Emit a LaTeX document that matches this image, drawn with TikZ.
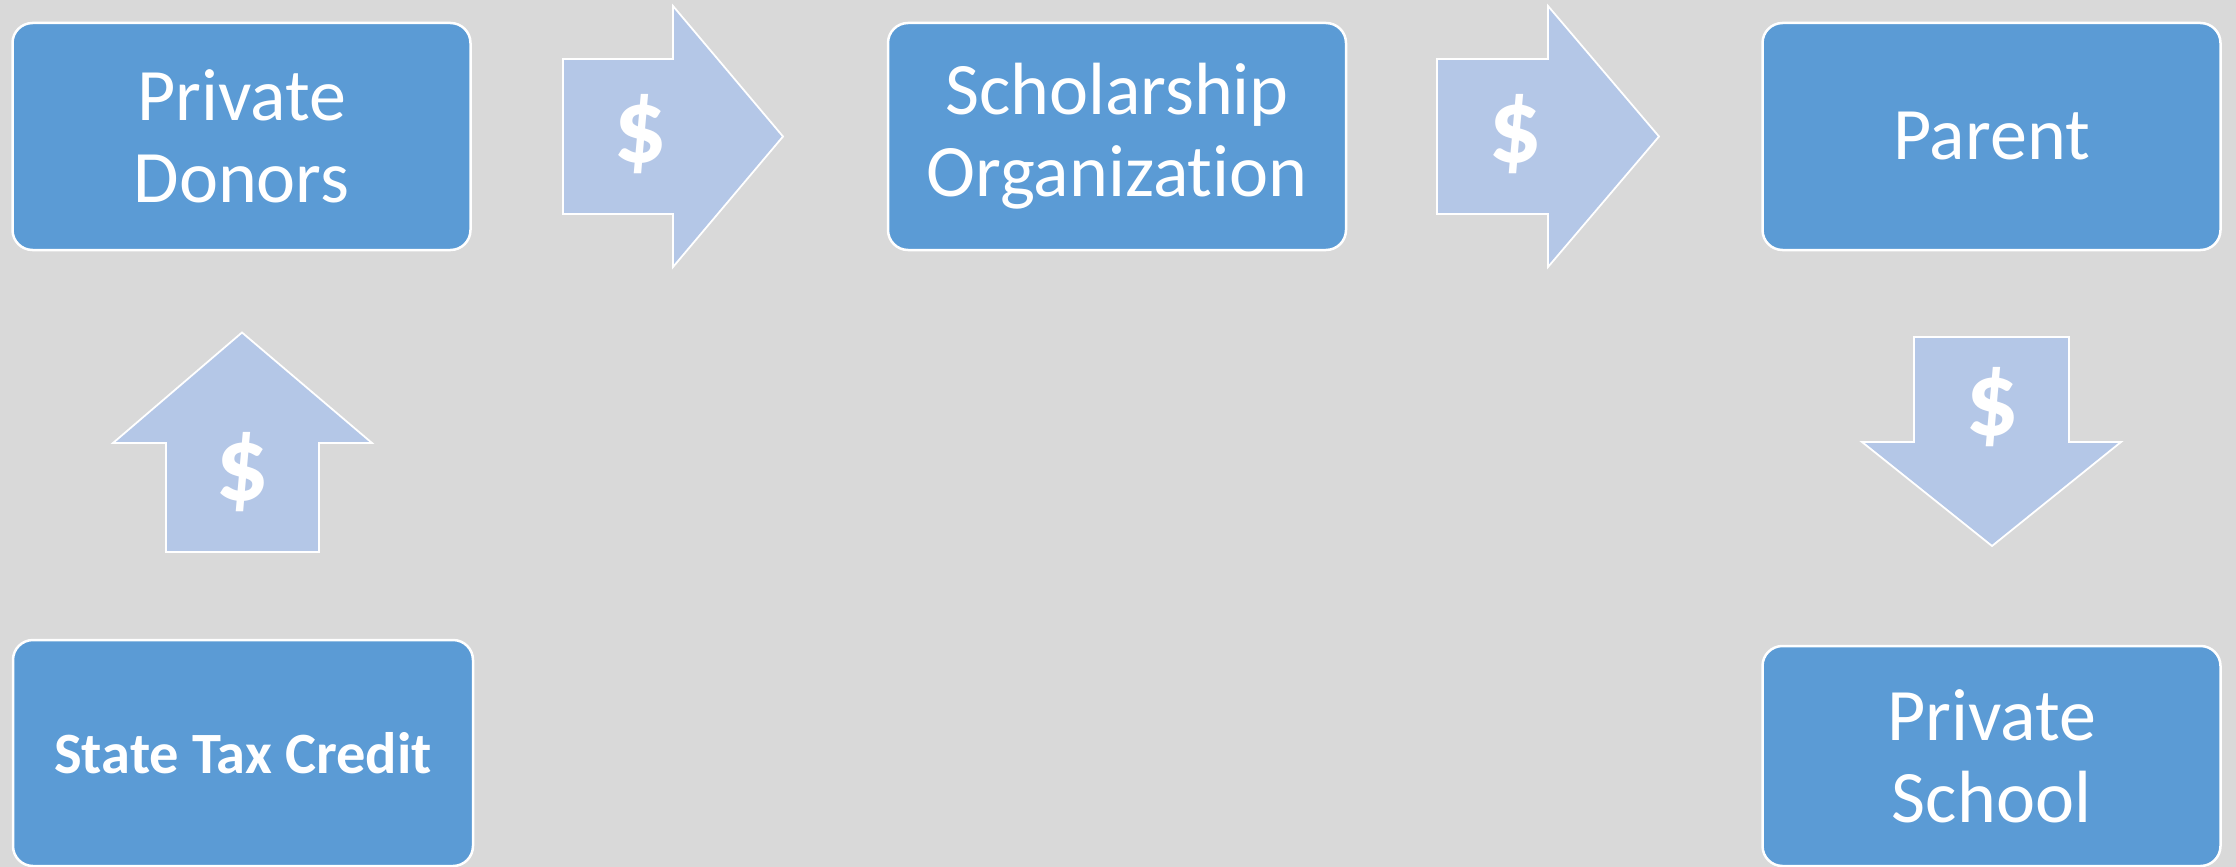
\documentclass[tikz,border=0pt]{standalone}
\usepackage{fontspec}
\setmainfont{Carlito}[Ligatures=NoCommon]
\definecolor{bg}{HTML}{D9D9D9}
\definecolor{boxblue}{HTML}{5B9BD5}
\definecolor{arrowblue}{HTML}{B4C7E7}
\begin{document}
\begin{tikzpicture}[x=1pt,y=-1pt,
  box/.style={draw=white, line width=2.5pt, fill=boxblue, rounded corners=20pt,
    text=white, align=center, inner sep=0pt, minimum width=458pt, minimum height=227pt},
  big/.style={font=\fontsize{74}{82}\selectfont},
  flow/.style={draw=white, line width=1.8pt, fill=arrowblue, line join=miter},
  dollar/.style={text=white, inner sep=0pt, font=\bfseries\fontsize{106}{106}\selectfont}]
\fill[bg] (0,0) rectangle (2236,867);
\useasboundingbox (0,0) rectangle (2236,867);

% boxes
\node[box, big] (donors) at (241.5,136.5) {Private\\Donors};
\node[box, big] (scholar) at (1117,136.5) {Scholarship\\Organization};
\node[box, big] (parent) at (1991.5,136.5) {Parent};
\node[box, minimum width=460pt, minimum height=226pt,
  font=\bfseries\fontsize{58.5}{66}\selectfont] (tax) at (243,753) {State Tax Credit};
\node[box, big, minimum height=220pt] (school) at (1991.5,756) {Private\\School};

% block arrows
\draw[flow] (563,59) -- (673,59) -- (673,6) -- (783,136.5) -- (673,267) -- (673,214) -- (563,214) -- cycle;
\node[dollar] (d1) at (640,134) {\$};

\draw[flow] (1437,59) -- (1548,59) -- (1548,6) -- (1659,136.5) -- (1548,267) -- (1548,214) -- (1437,214) -- cycle;
\node[dollar] (d2) at (1515,134) {\$};

\draw[flow] (166,552) -- (166,443) -- (113,443) -- (242,332.5) -- (372,443) -- (319,443) -- (319,552) -- cycle;
\node[dollar] (d3) at (242,472) {\$};

\draw[flow] (1914,337) -- (2069,337) -- (2069,442) -- (2121,442) -- (1992,546) -- (1862,442) -- (1914,442) -- cycle;
\node[dollar] (d4) at (1992,407) {\$};
\end{tikzpicture}
\end{document}
